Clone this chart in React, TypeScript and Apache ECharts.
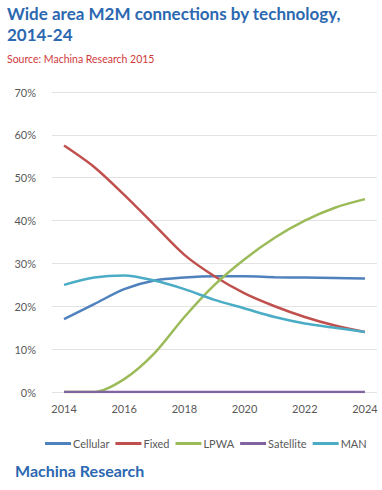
import React, { useEffect, useRef } from "react";
import * as echarts from "echarts";

const years = [2014, 2015, 2016, 2017, 2018, 2019, 2020, 2021, 2022, 2023, 2024];
const cellular = [17, 20.5, 24, 26, 26.7, 27, 27, 26.8, 26.7, 26.6, 26.5];
const fixed = [57.5, 52.5, 46, 39, 32, 27, 23, 20, 17.5, 15.5, 14];
const lpwa = [0, 0, 3, 9, 17.5, 25, 31, 36, 40, 43, 45];
const satellite = [0, 0, 0, 0, 0, 0, 0, 0, 0, 0, 0];
const man = [25, 26.7, 27.2, 26, 24, 21.5, 19.5, 17.5, 16, 15, 14];
const seriesNames = ["Cellular", "Fixed", "LPWA", "Satellite", "MAN"];
const seriesColors = ["#4F81BD", "#C0504D", "#9BBB59", "#8064A2", "#4BACC6"];
const seriesValues = [cellular, fixed, lpwa, satellite, man];

const FONT = "Lato, 'Open Sans', sans-serif";

export default function App() {
  const ref = useRef<HTMLDivElement>(null);
  useEffect(() => {
    const chart = echarts.init(ref.current!, null, { renderer: "svg" });
    chart.setOption({
      animation: false,
      backgroundColor: "#ffffff",
      textStyle: { fontFamily: FONT },
      graphic: [
        { type: "text", left: 7, top: 5, style: { text: "Wide area M2M connections by technology,", font: `bold 17px ${FONT}`, fill: "#2C68B0" } },
        { type: "text", left: 7, top: 26, style: { text: "2014-24", font: `bold 17px ${FONT}`, fill: "#2C68B0" } },
        { type: "text", left: 7, top: 53, style: { text: "Source: Machina Research 2015", font: `10.5px ${FONT}`, fill: "#D0393B" } },
        { type: "text", left: 15, top: 462, style: { text: "Machina Research", font: `bold 16px ${FONT}`, fill: "#2C68B0" } },
      ],
      grid: { left: 52, right: 5, top: 92, bottom: 98 },
      legend: {
        left: 40,
        top: 433,
        icon: "rect",
        itemWidth: 26,
        itemHeight: 3,
        itemGap: 6,
        textStyle: { fontSize: 11, color: "#595959", fontFamily: FONT, padding: [0, 0, 0, -3] },
        data: seriesNames,
      },
      xAxis: {
        type: "value",
        min: 2013.6,
        max: 2024.4,
        interval: 0.2,
        splitLine: { show: false },
        axisTick: { show: false },
        axisLine: { show: false },
        axisLabel: {
          color: "#595959",
          fontSize: 11,
          margin: 11,
          fontFamily: FONT,
          formatter: (v: number) => {
            const r = Math.round(v);
            return Math.abs(v - r) < 1e-6 && r % 2 === 0 ? String(r) : "";
          },
        },
      },
      yAxis: {
        type: "value",
        min: 0,
        max: 70,
        interval: 10,
        axisLine: { show: false },
        axisTick: { show: false },
        splitLine: { lineStyle: { color: "#E3E3E3", width: 1 } },
        axisLabel: { color: "#595959", fontSize: 11, margin: 16, fontFamily: FONT, formatter: "{value}%" },
      },
      series: seriesNames.map((name, i) => ({
        name,
        type: "line",
        smooth: 0.3,
        showSymbol: false,
        symbol: "none",
        lineStyle: { width: 2.5, color: seriesColors[i] },
        itemStyle: { color: seriesColors[i] },
        data: years.map((y, j) => [y, seriesValues[i][j]]),
      })),
    });
    return () => chart.dispose();
  }, []);
  return <div ref={ref} style={{ width: 382, height: 490, position: "absolute", left: 0, top: 0 }} />;
}
